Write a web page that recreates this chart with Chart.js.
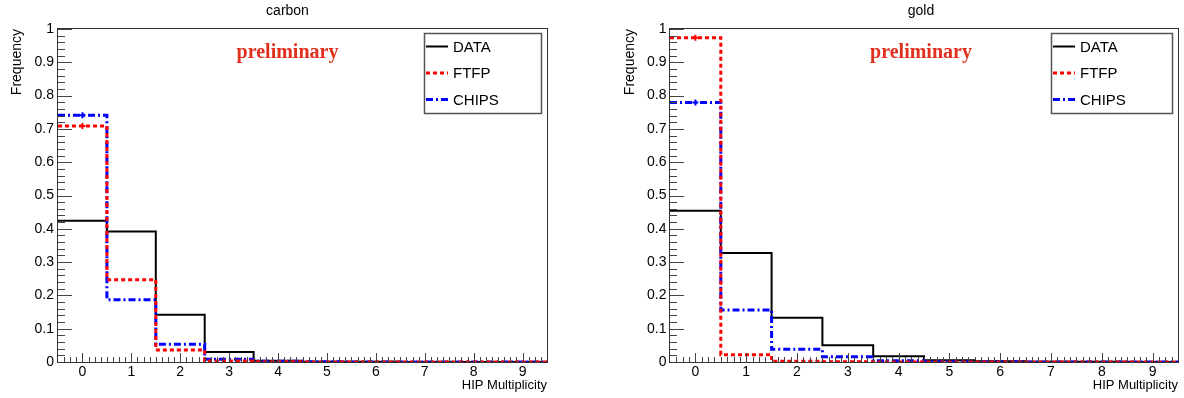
<!DOCTYPE html>
<html><head><meta charset="utf-8">
<script src="https://cdn.jsdelivr.net/npm/chart.js@4.4.1/dist/chart.umd.min.js"></script>
<style>
html,body{margin:0;padding:0;background:#fff;}
#wrap{position:relative;width:1184px;height:398px;overflow:hidden;}
.pane{position:absolute;top:0;width:592px;height:398px;}
canvas{display:block;}
</style></head><body>
<div id="wrap">
<div class="pane" style="left:0"><canvas id="c1" width="592" height="398"></canvas></div>
<div class="pane" style="left:592px"><canvas id="c2" width="592" height="398"></canvas></div>
</div>
<script>
// ---- data ----
const multiplicity = [0, 1, 2, 3, 4, 5, 6, 7, 8, 9];
const xTickLabels = ['0', '1', '2', '3', '4', '5', '6', '7', '8', '9'];
const yTickValues = [0, 0.1, 0.2, 0.3, 0.4, 0.5, 0.6, 0.7, 0.8, 0.9, 1];
const seriesNames = ['DATA', 'FTFP', 'CHIPS'];
const panelTitles = ['carbon', 'gold'];

const carbonDATA  = [0.424, 0.392, 0.142, 0.030, 0.004, 0.001, 0.0005, 0.0003, 0.0002, 0.0001];
const carbonFTFP  = [0.709, 0.247, 0.036, 0.003, 0.001, 0.0003, 0.0001, 0.0001, 0, 0];
const carbonCHIPS = [0.741, 0.187, 0.053, 0.008, 0.002, 0.0005, 0.0002, 0.0001, 0, 0];

const goldDATA  = [0.454, 0.327, 0.133, 0.050, 0.017, 0.005, 0.002, 0.001, 0.0005, 0.0003];
const goldFTFP  = [0.974, 0.022, 0.002, 0.001, 0.0003, 0.0001, 0, 0, 0, 0];
const goldCHIPS = [0.779, 0.156, 0.038, 0.016, 0.004, 0.001, 0.0005, 0.0002, 0.0001, 0];

// ---- styles ----
const FONT = 'Liberation Sans, Arial, Helvetica, sans-serif';
const styles = {
  DATA:  {color: '#000000', width: 2, dash: []},
  FTFP:  {color: '#ff0000', width: 3, dash: [4, 3]},
  CHIPS: {color: '#0000ff', width: 3, dash: [7, 3, 2, 3]}
};

function histPoints(vals) {
  const pts = multiplicity.map((m, i) => ({x: m - 0.5, y: vals[i]}));
  pts.push({x: multiplicity[multiplicity.length - 1] + 0.5, y: vals[vals.length - 1]});
  return pts;
}

const rootStyle = {
  id: 'rootStyle',
  afterDatasetsDraw(chart, args, opts) {
    const {ctx, chartArea: a, scales: {x, y}} = chart;
    ctx.save();
    ctx.setLineDash([]);
    // ticks (inside frame)
    ctx.strokeStyle = '#444';
    ctx.lineWidth = 1;
    ctx.beginPath();
    const L = Math.round(a.left), B = Math.round(a.bottom);
    for (let k = 0; k <= 50; k++) {
      const v = k / 50;
      const py = Math.round(y.getPixelForValue(v)) + 0.5;
      const len = (k % 5 === 0) ? 14 : 7;
      ctx.moveTo(L, py); ctx.lineTo(L + len, py);
    }
    const per = 8;
    for (let k = -4; k <= 76; k++) {
      const v = k / per;
      if (v <= x.min || v >= x.max) continue;
      const px = Math.round(x.getPixelForValue(v)) + 0.5;
      const len = (k % per === 0) ? 9 : 5;
      ctx.moveTo(px, B); ctx.lineTo(px, B - len);
    }
    ctx.stroke();
    // frame
    ctx.strokeStyle = '#333';
    ctx.strokeRect(L - 0.5, Math.round(a.top) - 0.5, Math.round(a.right) - L + 1, B - Math.round(a.top) + 1);

    // title
    ctx.fillStyle = '#000';
    ctx.font = '14px ' + FONT;
    ctx.textAlign = 'center';
    ctx.textBaseline = 'middle';
    ctx.fillText(opts.title, opts.centerX, 11);
    // preliminary
    ctx.fillStyle = '#e0301e';
    ctx.font = 'bold 20px "Liberation Serif", "Times New Roman", serif';
    ctx.fillText('preliminary', opts.centerX, a.top + 24);

    // legend
    const bw = opts.legendW, bh = 80;
    const bx = Math.round(a.right) - 6 - bw, by = Math.round(a.top) + 4;
    ctx.fillStyle = '#fff';
    ctx.fillRect(bx, by, bw, bh);
    ctx.strokeStyle = '#555';
    ctx.lineWidth = 1.5;
    ctx.strokeRect(bx + 0.5, by + 0.5, bw, bh);
    ctx.font = '15px ' + FONT;
    ctx.textAlign = 'left';
    seriesNames.forEach((name, i) => {
      const st = styles[name];
      const ly = by + 13.5 + i * 26.5;
      ctx.strokeStyle = st.color;
      ctx.lineWidth = st.width;
      ctx.setLineDash(st.dash);
      ctx.beginPath();
      ctx.moveTo(bx + 2, ly); ctx.lineTo(bx + 24, ly);
      ctx.stroke();
      ctx.setLineDash([]);
      ctx.fillStyle = '#000';
      ctx.fillText(name, bx + 29, ly + 1);
    });
    ctx.restore();
  }
};

function makeChart(id, series, cfg) {
  const order = {DATA: 2, CHIPS: 1, FTFP: 0};
  const datasets = [];
  seriesNames.forEach((name, i) => {
    const st = styles[name];
    datasets.push({
      label: name,
      data: histPoints(series[i]),
      stepped: true,
      borderColor: st.color,
      borderWidth: st.width,
      borderDash: st.dash,
      pointRadius: 0,
      fill: false,
      order: order[name]
    });
    if (name !== 'DATA') {
      datasets.push({
        label: name + ' err',
        data: [{x: multiplicity[0], y: series[i][0]}],
        showLine: false,
        pointStyle: 'cross',
        pointRadius: 3,
        pointBorderWidth: 2,
        pointBorderColor: st.color,
        pointBackgroundColor: st.color,
        order: order[name]
      });
    }
  });
  return new Chart(document.getElementById(id), {
    type: 'line',
    data: {datasets},
    plugins: [rootStyle],
    options: {
      responsive: false,
      devicePixelRatio: 1,
      animation: false,
      events: [],
      layout: {padding: {left: cfg.padL, right: cfg.padR, top: 29, bottom: 0}},
      plugins: {
        legend: {display: false},
        tooltip: {enabled: false},
        rootStyle: {title: cfg.title, centerX: cfg.centerX, legendW: cfg.legendW}
      },
      scales: {
        x: {
          type: 'linear', min: -0.5, max: 9.5,
          afterBuildTicks: s => { s.ticks = multiplicity.map(v => ({value: v})); },
          afterFit: s => { s.height = 36; },
          ticks: {
            autoSkip: false, maxRotation: 0, padding: 2,
            color: '#000', font: {family: FONT, size: 14},
            callback: (v) => xTickLabels[multiplicity.indexOf(v)]
          },
          grid: {display: false, drawTicks: false, tickLength: 0},
          border: {display: false},
          title: {display: true, text: 'HIP Multiplicity', align: 'end', color: '#000',
                  font: {family: FONT, size: 13}, padding: {top: 0, bottom: 5}}
        },
        y: {
          min: 0, max: 1,
          afterBuildTicks: s => { s.ticks = yTickValues.map(v => ({value: v})); },
          afterFit: s => { s.width = cfg.yW; },
          ticks: {
            autoSkip: false, padding: cfg.yPad,
            color: '#000', font: {family: FONT, size: 14},
            callback: v => String(Math.round(v * 10) / 10)
          },
          grid: {display: false, drawTicks: false, tickLength: 0},
          border: {display: false},
          title: {display: true, text: 'Frequency', align: 'end', color: '#000',
                  font: {family: FONT, size: 14}, padding: {top: 4.5, bottom: 0}}
        }
      }
    }
  });
}

makeChart('c1', [carbonDATA, carbonFTFP, carbonCHIPS],
  {title: panelTitles[0], padL: 4, yW: 54, padR: 45, yPad: 4, centerX: 287.5, legendW: 117});
makeChart('c2', [goldDATA, goldFTFP, goldCHIPS],
  {title: panelTitles[1], padL: 25, yW: 53, padR: 5, yPad: 3.5, centerX: 329, legendW: 121});
</script>
</body></html>
